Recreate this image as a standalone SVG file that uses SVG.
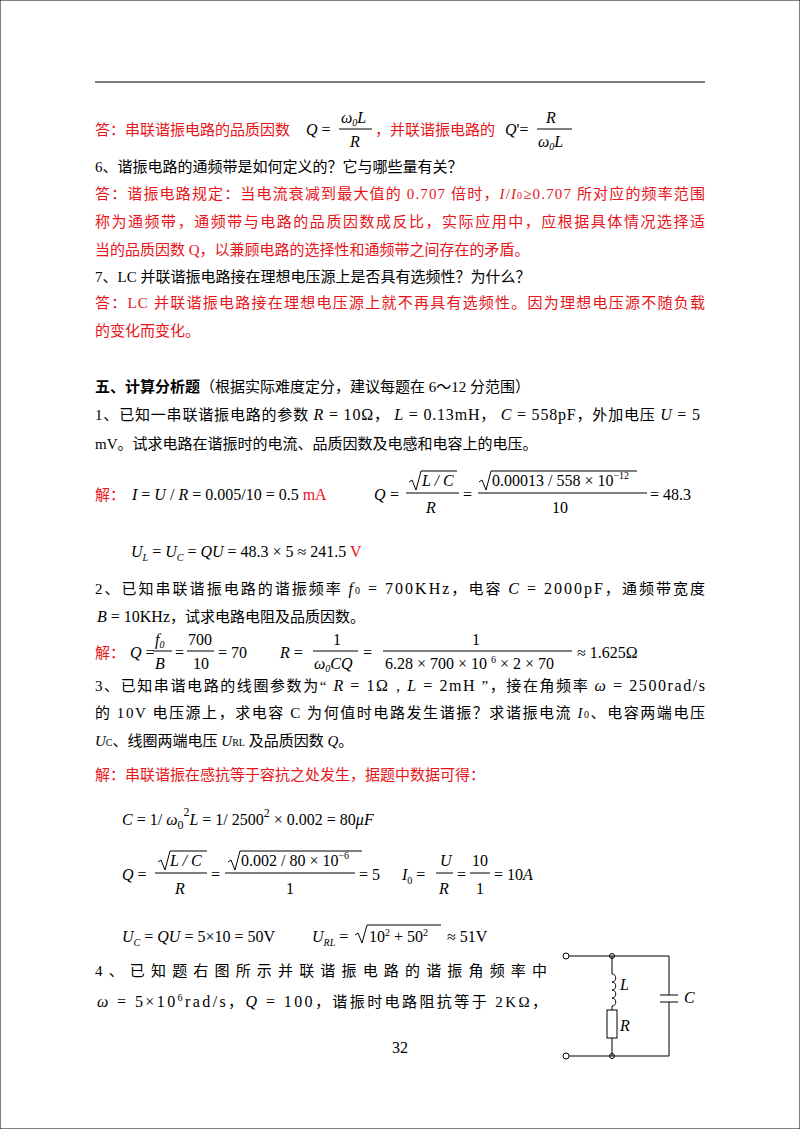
<svg xmlns="http://www.w3.org/2000/svg" width="800" height="1129" viewBox="0 0 800 1129">
<style>
text{font-family:"Liberation Serif","Noto Sans CJK SC",serif;font-size:15px;fill:#000}
.c{font-family:"Liberation Serif","Noto Sans CJK SC",serif}
.r{fill:#e8141a}
.m{font-family:"Liberation Serif",serif;font-size:16px}
.i{font-style:italic}
.s{font-size:10px}
line,path,rect,circle{stroke:#000;stroke-width:1;fill:none}
</style>
<rect width="800" height="1129" fill="#fff" stroke="none"/>
<line x1="95" y1="82" x2="705" y2="82" stroke-width="1.5"/>
<g id="text">
<text x="95" y="135" class="c r">答：串联谐振电路的品质因数</text>
<text x="306" y="135" class="m"><tspan class="i">Q</tspan> =</text>
<text x="341" y="123" class="m i">ω<tspan class="s" dy="3">0</tspan><tspan dy="-3">L</tspan></text>
<line x1="339" y1="129" x2="372" y2="129"/>
<text x="350" y="147" class="m i">R</text>
<text x="375" y="135" class="c r">，并联谐振电路的</text>
<text x="505" y="135" class="m"><tspan class="i">Q</tspan>'=</text>
<text x="546" y="123" class="m i">R</text>
<line x1="537" y1="129" x2="572" y2="129"/>
<text x="538" y="147" class="m i">ω<tspan class="s" dy="3">0</tspan><tspan dy="-3">L</tspan></text>

<text x="95" y="172" class="c">6、谐振电路的通频带是如何定义的？它与哪些量有关？</text>
<text x="95" y="199" class="c r" textLength="610">答：谐振电路规定：当电流衰减到最大值的 0.707 倍时，<tspan font-style="italic">I</tspan>/<tspan font-style="italic">I</tspan><tspan class="s">0</tspan>≥0.707 所对应的频率范围</text>
<text x="95" y="227" class="c r" textLength="610">称为通频带，通频带与电路的品质因数成反比，实际应用中，应根据具体情况选择适</text>
<text x="95" y="255" class="c r">当的品质因数 Q，以兼顾电路的选择性和通频带之间存在的矛盾。</text>
<text x="95" y="282" class="c">7、LC 并联谐振电路接在理想电压源上是否具有选频性？为什么？</text>
<text x="95" y="308" class="c r" textLength="610">答：LC 并联谐振电路接在理想电压源上就不再具有选频性。因为理想电压源不随负载</text>
<text x="95" y="336" class="c r">的变化而变化。</text>

<text x="95" y="392" class="c"><tspan font-weight="bold">五、计算分析题</tspan>（根据实际难度定分，建议每题在 6～12 分范围）</text>
<text x="95" y="420" class="c" textLength="605">1、已知一串联谐振电路的参数 <tspan class="m"><tspan font-style="italic">R</tspan> = 10Ω</tspan>， <tspan class="m"><tspan font-style="italic">L</tspan> = 0.13mH</tspan>， <tspan class="m"><tspan font-style="italic">C</tspan> = 558pF</tspan>，外加电压 <tspan class="m"><tspan font-style="italic">U</tspan> = 5</tspan></text>
<text x="95" y="449" class="c">mV。试求电路在谐振时的电流、品质因数及电感和电容上的电压。</text>

<text x="95" y="500" class="c r">解：</text>
<text x="132" y="500" class="m"><tspan class="i">I</tspan> = <tspan class="i">U</tspan> / <tspan class="i">R</tspan> = 0.005/10 = 0.5<tspan class="r"> mA</tspan></text>
<text x="374" y="500" class="m i">Q</text><text x="390" y="500" class="m">=</text>
<path d="M409 482 l3 -2 l4 10 l5 -19 h36"/>
<text x="422" y="486" class="m i">L / C</text>
<line x1="406" y1="493" x2="459" y2="493"/>
<text x="426" y="513" class="m i">R</text>
<text x="463" y="500" class="m">=</text>
<path d="M479 482 l3 -2 l4 10 l5 -19 h146"/>
<text x="492" y="486" class="m">0.00013 / 558 × 10<tspan class="s" dy="-7">−12</tspan></text>
<line x1="478" y1="493" x2="647" y2="493"/>
<text x="552" y="513" class="m">10</text>
<text x="650" y="500" class="m">= 48.3</text>

<text x="131" y="557" class="m"><tspan class="i">U</tspan><tspan class="s i" dy="4">L</tspan><tspan dy="-4"> = </tspan><tspan class="i">U</tspan><tspan class="s i" dy="4">C</tspan><tspan dy="-4"> = </tspan><tspan class="i">QU</tspan> = 48.3 × 5 ≈ 241.5<tspan class="r"> V</tspan></text>

<text x="95" y="594" class="c" textLength="610">2、已知串联谐振电路的谐振频率 <tspan class="m"><tspan font-style="italic">f</tspan><tspan class="s">0</tspan> = 700KHz</tspan>，电容 <tspan class="m"><tspan font-style="italic">C</tspan> = 2000pF</tspan>，通频带宽度</text>
<text x="97" y="622" class="c"><tspan class="m"><tspan font-style="italic">B</tspan> = 10KHz</tspan>，试求电路电阻及品质因数。</text>

<text x="95" y="658" class="c r">解：</text>
<text x="130" y="658" class="m"><tspan class="i">Q</tspan> =</text>
<text x="155" y="645" class="m i">f<tspan class="s" dy="3">0</tspan></text>
<line x1="153" y1="651" x2="172" y2="651"/>
<text x="155" y="669" class="m i">B</text>
<text x="175" y="658" class="m">=</text>
<text x="188" y="645" class="m">700</text>
<line x1="187" y1="651" x2="214" y2="651"/>
<text x="193" y="669" class="m">10</text>
<text x="218" y="658" class="m">= 70</text>
<text x="280" y="658" class="m"><tspan class="i">R</tspan> =</text>
<text x="333" y="645" class="m">1</text>
<line x1="313" y1="651" x2="358" y2="651"/>
<text x="314" y="669" class="m i">ω<tspan class="s" dy="3">0</tspan><tspan dy="-3">CQ</tspan></text>
<text x="363" y="658" class="m">=</text>
<text x="472" y="645" class="m">1</text>
<line x1="383" y1="651" x2="572" y2="651"/>
<text x="385" y="669" class="m">6.28 × 700 × 10 <tspan class="s" dy="-6">6</tspan><tspan dy="6"> × 2 × 70</tspan></text>
<text x="577" y="658" class="m">≈ 1.625Ω</text>

<text x="95" y="691" class="c" textLength="610">3、已知串谐电路的线圈参数为“ <tspan class="m"><tspan font-style="italic">R</tspan> = 1Ω，<tspan font-style="italic">L</tspan> = 2mH</tspan> ”，接在角频率 <tspan class="m" font-size="18"><tspan font-style="italic">ω</tspan> = 2500rad/s</tspan></text>
<text x="95" y="718" class="c" textLength="610">的 10V 电压源上，求电容 C 为何值时电路发生谐振？求谐振电流 <tspan font-style="italic">I</tspan><tspan class="s">0</tspan>、电容两端电压</text>
<text x="95" y="746" class="c"><tspan font-style="italic">U</tspan><tspan class="s">C</tspan>、线圈两端电压 <tspan font-style="italic">U</tspan><tspan class="s">RL</tspan> 及品质因数 <tspan font-style="italic">Q</tspan>。</text>
<text x="95" y="780" class="c r">解：串联谐振在感抗等于容抗之处发生，据题中数据可得：</text>

<text x="122" y="825" class="m" font-size="20"><tspan class="i">C</tspan> = 1/ <tspan class="i">ω</tspan><tspan font-size="12" dy="4">0</tspan><tspan font-size="12" dy="-13">2</tspan><tspan dy="9" class="i">L</tspan> = 1/ 2500<tspan font-size="12" dy="-8">2</tspan><tspan dy="8"> × 0.002 = 80</tspan><tspan class="i">μF</tspan></text>

<text x="122" y="880" class="m"><tspan class="i">Q</tspan> =</text>
<path d="M158 862 l3 -2 l4 10 l5 -19 h37"/>
<text x="170" y="866" class="m i">L / C</text>
<line x1="155" y1="873" x2="207" y2="873"/>
<text x="175" y="894" class="m i">R</text>
<text x="211" y="880" class="m">=</text>
<path d="M228 862 l3 -2 l4 10 l5 -19 h122"/>
<text x="241" y="866" class="m">0.002 / 80 × 10<tspan class="s" dy="-7">−6</tspan></text>
<line x1="225" y1="873" x2="355" y2="873"/>
<text x="286" y="894" class="m">1</text>
<text x="359" y="880" class="m">= 5</text>
<text x="402" y="880" class="m"><tspan class="i">I</tspan><tspan class="s" dy="4">0</tspan><tspan dy="-4"> =</tspan></text>
<text x="440" y="866" class="m i">U</text>
<line x1="436" y1="873" x2="453" y2="873"/>
<text x="439" y="894" class="m i">R</text>
<text x="457" y="880" class="m">=</text>
<text x="472" y="866" class="m">10</text>
<line x1="470" y1="873" x2="490" y2="873"/>
<text x="476" y="894" class="m">1</text>
<text x="494" y="880" class="m">= 10<tspan class="i">A</tspan></text>

<text x="122" y="942" class="m"><tspan class="i">U</tspan><tspan class="s i" dy="4">C</tspan><tspan dy="-4"> = </tspan><tspan class="i">QU</tspan> = 5×10 = 50V</text>
<text x="312" y="942" class="m"><tspan class="i">U</tspan><tspan class="s i" dy="4">RL</tspan><tspan dy="-4"> =</tspan></text>
<path d="M355 935 l3 -2 l4 10 l5 -18 h74"/>
<text x="369" y="942" class="m">10<tspan class="s" dy="-6">2</tspan><tspan dy="6"> + 50</tspan><tspan class="s" dy="-6">2</tspan></text>
<text x="447" y="942" class="m">≈ 51V</text>

<text x="95" y="976" class="c" textLength="452">4、已知题右图所示并联谐振电路的谐振角频率中</text>
<text x="97" y="1007" class="c" textLength="450"><tspan class="m"><tspan font-style="italic">ω</tspan> = 5×10<tspan class="s" dy="-6">6</tspan><tspan dy="6">rad/s</tspan></tspan>，<tspan class="m"><tspan font-style="italic">Q</tspan> = 100</tspan>，谐振时电路阻抗等于 2KΩ，</text>

<text x="400" y="1053" class="m" text-anchor="middle" font-size="14">32</text>
</g>
<g id="circuit">
<circle cx="566" cy="956" r="3" fill="#fff"/>
<circle cx="566" cy="1056" r="3" fill="#fff"/>
<path d="M569 956 H669 V995 M669 1002 V1056 H569"/>
<line x1="660" y1="995" x2="678" y2="995" stroke-width="2"/>
<line x1="660" y1="1002" x2="678" y2="1002" stroke-width="2"/>
<path d="M612 956 V974 c5 0 5 8 0 8 c5 0 5 8 0 8 c5 0 5 8 0 8 c5 0 5 8 0 8 V1010 M612 1038 V1056"/>
<rect x="607" y="1010" width="10" height="28"/>
<circle cx="612" cy="956" r="2.5" fill="#000"/>
<circle cx="612" cy="1056" r="2.5" fill="#000"/>
<text x="620" y="990" class="m i">L</text>
<text x="620" y="1031" class="m i">R</text>
<text x="684" y="1003" class="m i">C</text>
</g>
</svg>
